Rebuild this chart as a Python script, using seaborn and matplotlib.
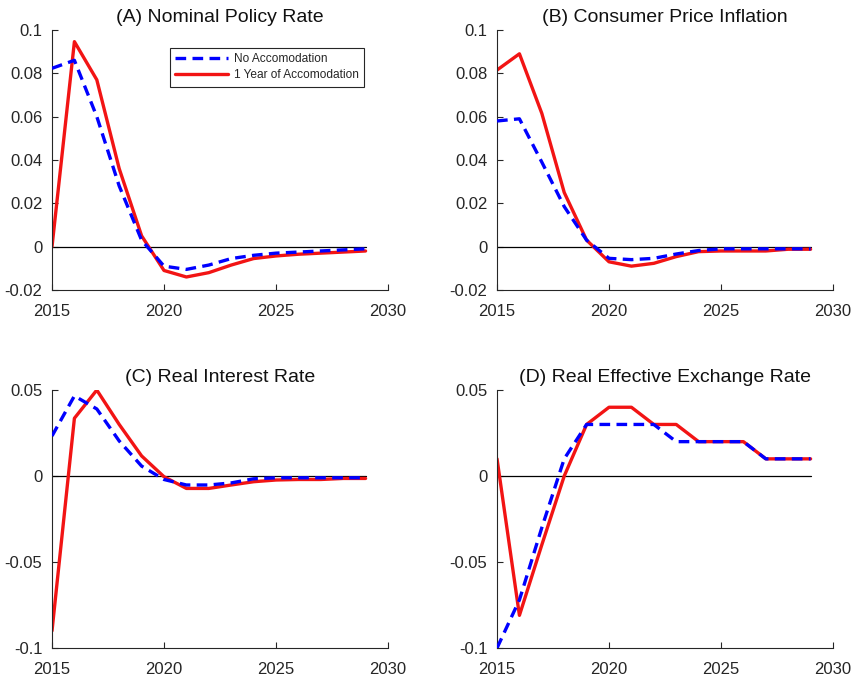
import numpy as np
import pandas as pd
import matplotlib
matplotlib.use("Agg")
import matplotlib.pyplot as plt
import seaborn as sns

# Simulation horizon
years = list(range(2015, 2030))

# (A) Nominal policy rate
policy_no_acc = [0.0823, 0.086, 0.060, 0.028, 0.003, -0.009, -0.0105, -0.0085,
                 -0.0055, -0.004, -0.003, -0.0025, -0.002, -0.0015, -0.001]
policy_1yr = [0.0, 0.0946, 0.077, 0.036, 0.005, -0.011, -0.014, -0.012,
              -0.0085, -0.0055, -0.0043, -0.0035, -0.003, -0.0025, -0.002]

# (B) Consumer price inflation
cpi_no_acc = [0.058, 0.059, 0.039, 0.0185, 0.003, -0.0054, -0.006, -0.0054,
              -0.0034, -0.0018, -0.001, -0.001, -0.001, -0.001, -0.001]
cpi_1yr = [0.0815, 0.089, 0.0615, 0.025, 0.003, -0.007, -0.009, -0.0077,
           -0.0046, -0.0023, -0.002, -0.002, -0.002, -0.0012, -0.0012]

# (C) Real interest rate
rir_no_acc = [0.0233, 0.0466, 0.039, 0.0204, 0.0058, -0.002, -0.0052, -0.0052,
              -0.004, -0.0016, -0.001, -0.001, -0.001, -0.001, -0.001]
rir_1yr = [-0.090, 0.0336, 0.050, 0.030, 0.0117, -0.0004, -0.0072, -0.0072,
           -0.0052, -0.0033, -0.0023, -0.002, -0.002, -0.0014, -0.0014]

# (D) Real effective exchange rate
reer_no_acc = [-0.10, -0.072, -0.03, 0.01, 0.03, 0.03, 0.03, 0.03,
               0.02, 0.02, 0.02, 0.02, 0.01, 0.01, 0.01]
reer_1yr = [0.01, -0.081, -0.04, 0.00, 0.03, 0.04, 0.04, 0.03,
            0.03, 0.02, 0.02, 0.02, 0.01, 0.01, 0.01]

titles = ["(A) Nominal Policy Rate", "(B) Consumer Price Inflation",
          "(C) Real Interest Rate", "(D) Real Effective Exchange Rate"]
series_labels = ["No Accomodation", "1 Year of Accomodation"]

x_ticks = [2015, 2020, 2025, 2030]
x_ticklabels = ["2015", "2020", "2025", "2030"]
y_ticks_top = [-0.02, 0.0, 0.02, 0.04, 0.06, 0.08, 0.1]
y_ticklabels_top = ["-0.02", "0", "0.02", "0.04", "0.06", "0.08", "0.1"]
y_ticks_bottom = [-0.1, -0.05, 0.0, 0.05]
y_ticklabels_bottom = ["-0.1", "-0.05", "0", "0.05"]

panels = [
    (policy_no_acc, policy_1yr, (-0.02, 0.1), y_ticks_top, y_ticklabels_top),
    (cpi_no_acc, cpi_1yr, (-0.02, 0.1), y_ticks_top, y_ticklabels_top),
    (rir_no_acc, rir_1yr, (-0.1, 0.05), y_ticks_bottom, y_ticklabels_bottom),
    (reer_no_acc, reer_1yr, (-0.1, 0.05), y_ticks_bottom, y_ticklabels_bottom),
]

sns.set_style("ticks")
plt.rcParams["font.family"] = ["Liberation Sans", "DejaVu Sans"]
plt.rcParams["xtick.direction"] = "in"
plt.rcParams["ytick.direction"] = "in"

BLUE = "#0000ff"
RED = "#f21414"
AXIS_GRAY = "#262626"
DASH = (3.2, 1.9)

fig = plt.figure(figsize=(8.54, 6.78), dpi=100)
positions = [
    [0.0609, 0.5723, 0.3934, 0.3835],
    [0.5820, 0.5723, 0.3934, 0.3835],
    [0.0609, 0.0442, 0.3934, 0.3805],
    [0.5820, 0.0442, 0.3934, 0.3805],
]

for i, (pos, (no_acc, one_yr, ylim, yt, ytl)) in enumerate(zip(positions, panels)):
    ax = fig.add_axes(pos)
    df = pd.DataFrame({"year": years, "no": no_acc, "one": one_yr,
                       "zero": np.zeros(len(years))})
    sns.lineplot(data=df, x="year", y="zero", ax=ax, color="black",
                 linewidth=0.9, zorder=1)
    sns.lineplot(data=df, x="year", y="one", ax=ax, color=RED,
                 linewidth=2.4, zorder=2, label=series_labels[1])
    sns.lineplot(data=df, x="year", y="no", ax=ax, color=BLUE,
                 linewidth=2.4, zorder=3, label=series_labels[0])
    ax.lines[-1].set_dashes(DASH)

    ax.set_xlim(2015, 2030)
    ax.set_ylim(*ylim)
    ax.set_xticks(x_ticks)
    ax.set_xticklabels(x_ticklabels)
    ax.set_yticks(yt)
    ax.set_yticklabels(ytl)
    ax.set_xlabel("")
    ax.set_ylabel("")
    ax.tick_params(labelsize=12, colors=AXIS_GRAY, length=4, width=0.8)
    ax.tick_params(axis="x", pad=10)
    ax.tick_params(axis="y", pad=7)
    for s in ["top", "right"]:
        ax.spines[s].set_visible(False)
    for s in ["left", "bottom"]:
        ax.spines[s].set_color(AXIS_GRAY)
        ax.spines[s].set_linewidth(0.8)
    ax.set_title(titles[i], fontsize=14, color="#111111", pad=6)

    if i == 0:
        handles, labels = ax.get_legend_handles_labels()
        order = [labels.index(series_labels[0]), labels.index(series_labels[1])]
        leg = ax.legend([handles[k] for k in order], [labels[k] for k in order],
                        loc="upper left", bbox_to_anchor=(0.351, 0.931),
                        borderaxespad=0, fontsize=8.6, handlelength=4.4,
                        fancybox=False, framealpha=1, edgecolor=AXIS_GRAY,
                        borderpad=0.45, labelspacing=0.35, handletextpad=0.5)
        leg.get_frame().set_linewidth(0.8)
        leg.legend_handles[0].set_dashes(DASH)
    else:
        if ax.get_legend() is not None:
            ax.get_legend().remove()

fig.savefig("out.png", dpi=100)
